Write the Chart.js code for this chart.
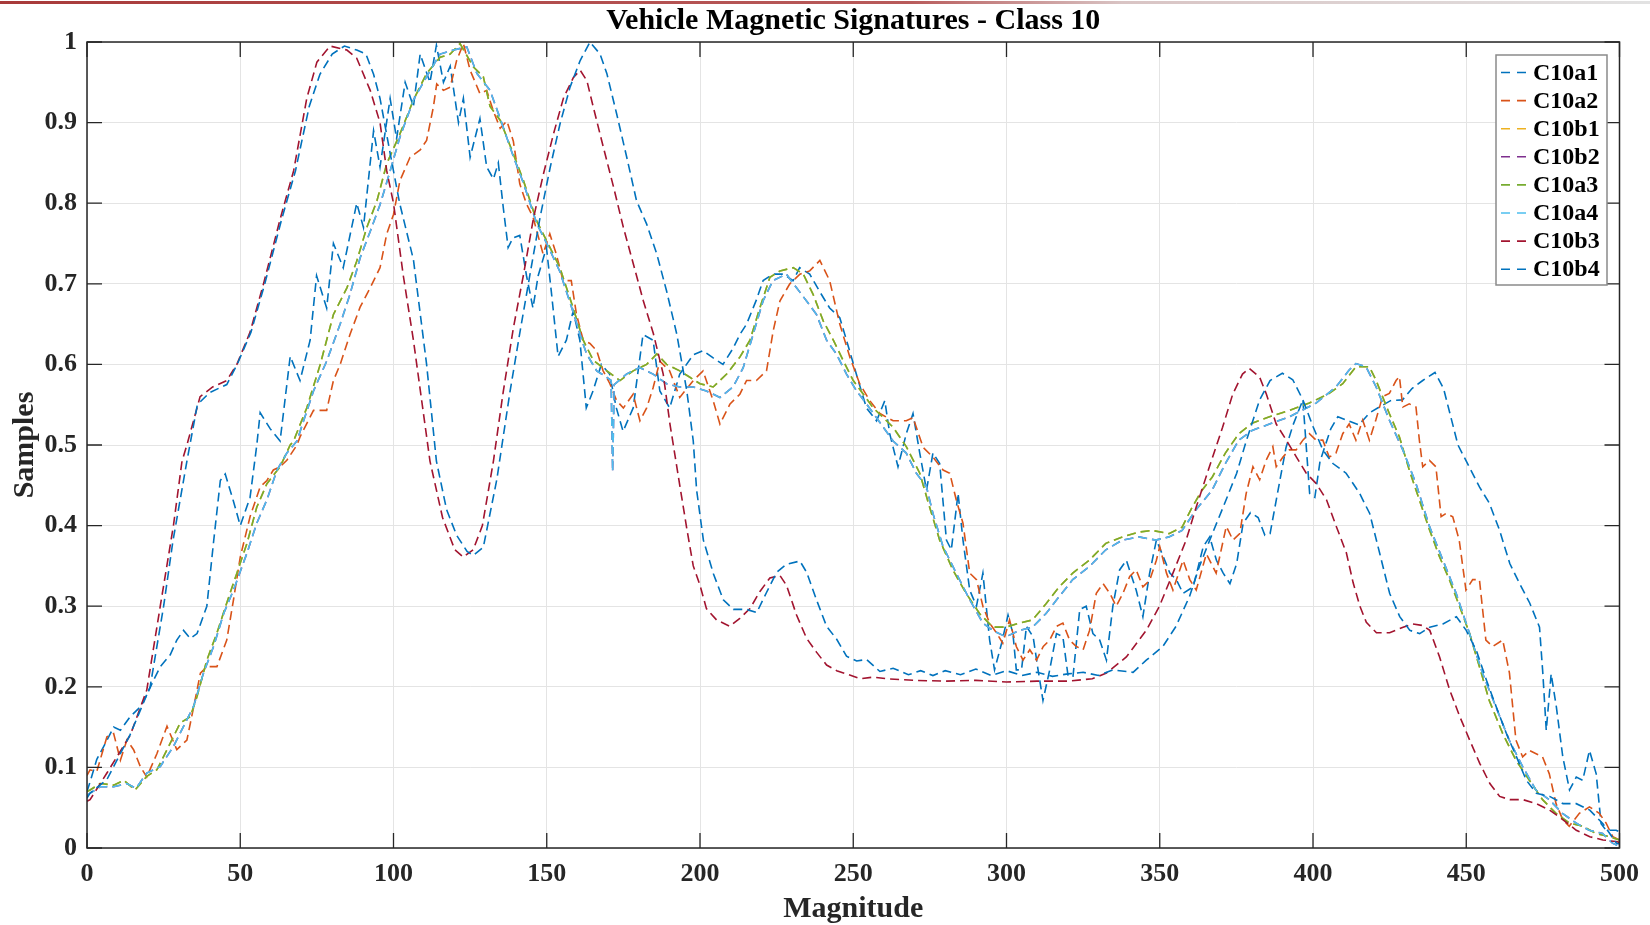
<!DOCTYPE html>
<html>
<head>
<meta charset="utf-8">
<title>Vehicle Magnetic Signatures - Class 10</title>
<script src="https://cdn.jsdelivr.net/npm/chart.js@4.4.1/dist/chart.umd.min.js"></script>
<style>
  html, body { margin: 0; padding: 0; background: #fff; }
</style>
</head>
<body>
<canvas id="myChart" width="1650" height="925"></canvas>
<script>
const chartTitle = 'Vehicle Magnetic Signatures - Class 10';
const xTitle = 'Magnitude';
const yTitle = 'Samples';
const seriesNames = ['C10a1', 'C10a2', 'C10b1', 'C10b2', 'C10a3', 'C10a4', 'C10b3', 'C10b4'];
const seriesColors = ['#0072BD', '#D95319', '#EDB120', '#7E2F8E', '#77AC30', '#4DBEEE', '#A2142F', '#0072BD'];

// [magnitude, sample] pairs
const C10a1 = [[0,0.07],[1,0.082],[3.2,0.11],[6,0.13],[8.7,0.15],[10.9,0.146],[14.1,0.163],[17.4,0.175],[19.5,0.19],[21.7,0.208],[23.9,0.225],[27.2,0.24],[29.3,0.258],[31.5,0.27],[33.7,0.26],[35.9,0.266],[39.1,0.3],[41.3,0.38],[43.5,0.456],[45.1,0.464],[47.8,0.43],[50,0.4],[53.2,0.435],[55.4,0.5],[56.5,0.54],[59.8,0.52],[63,0.505],[66.3,0.61],[69.5,0.58],[72.8,0.63],[74.9,0.71],[78.2,0.67],[80.4,0.75],[83.6,0.72],[88,0.8],[90.2,0.77],[93.5,0.89],[95.6,0.845],[98.9,0.93],[101,0.88],[103.8,0.95],[106.5,0.92],[108.7,0.985],[111.9,0.95],[114,0.996],[116.3,0.95],[118.5,0.97],[121.2,0.9],[122.8,0.93],[125,0.857],[128.2,0.905],[130.4,0.845],[132.6,0.83],[134.2,0.85],[135.8,0.795],[137.4,0.745],[139,0.757],[141.2,0.76],[143.4,0.71],[145.5,0.67],[147.2,0.71],[149.9,0.745],[151.5,0.69],[153.7,0.61],[156.4,0.63],[158.6,0.666],[160.8,0.63],[162.9,0.546],[165.1,0.567],[167.8,0.6],[170.5,0.588],[172.7,0.546],[174.9,0.517],[178.2,0.546],[181.4,0.637],[184.7,0.63],[186.9,0.567],[190.1,0.546],[193.4,0.588],[197.8,0.612],[201,0.617],[204.3,0.608],[207.5,0.6],[210.8,0.62],[213,0.637],[215.2,0.65],[218.4,0.68],[220.6,0.704],[223.8,0.712],[227.1,0.712],[230.4,0.704],[232.5,0.72],[235.8,0.712],[239.1,0.69],[242.3,0.67],[245.6,0.658],[247.8,0.63],[251,0.588],[254.3,0.546],[257.6,0.53],[260.3,0.555],[261.9,0.514],[264.6,0.473],[267.3,0.514],[269.5,0.539],[271.7,0.49],[273.9,0.444],[276,0.49],[278.2,0.477],[280.4,0.382],[282,0.37],[284.2,0.44],[285.8,0.382],[288,0.32],[290.2,0.3],[292.3,0.341],[294.5,0.258],[296.1,0.221],[298.4,0.254],[300.5,0.289],[302.1,0.266],[303.2,0.221],[304.9,0.221],[306.5,0.275],[308.7,0.262],[310.3,0.221],[311.9,0.183],[314.1,0.221],[316.3,0.266],[318.4,0.262],[320.1,0.213],[321.7,0.213],[323.9,0.296],[326,0.3],[328.2,0.266],[330.4,0.258],[332.6,0.233],[334.7,0.3],[336.9,0.345],[339.1,0.357],[342.3,0.32],[344.5,0.287],[346.7,0.341],[348.9,0.382],[351.1,0.362],[353.3,0.341],[355.4,0.333],[357.6,0.316],[360.9,0.324],[364.2,0.374],[366.3,0.386],[368.5,0.357],[370.7,0.341],[372.9,0.328],[375.1,0.353],[377.2,0.403],[379.6,0.416],[382.1,0.41],[384.3,0.388],[386,0.39],[388.9,0.45],[391.2,0.497],[393.5,0.525],[396.7,0.556],[398.9,0.44],[400.6,0.435],[402.3,0.48],[405.8,0.52],[408.1,0.535],[411.5,0.53],[415,0.525],[418.5,0.54],[421.6,0.547],[425.3,0.555],[429.2,0.556],[432.3,0.57],[435.8,0.58],[439.8,0.59],[442.6,0.57],[447.3,0.5],[454.3,0.448],[457.5,0.428],[460.8,0.395],[464.2,0.353],[467.4,0.328],[470.7,0.304],[473.9,0.274],[475,0.216],[476.1,0.146],[477.7,0.216],[479.4,0.175],[481.5,0.113],[483.7,0.072],[485.9,0.088],[488,0.084],[490.2,0.121],[492.4,0.092],[494,0.03],[495.6,0.022],[498.9,0.022],[500,0.02]];

const C10a2 = [[0,0.09],[1,0.097],[3.2,0.095],[6.5,0.138],[8.7,0.142],[10.9,0.109],[13,0.134],[15.2,0.122],[17.4,0.101],[19.5,0.088],[22.8,0.117],[26.1,0.151],[29.3,0.122],[32.6,0.134],[34.8,0.175],[37,0.217],[39.1,0.225],[42.4,0.225],[45.6,0.258],[47.8,0.308],[50,0.361],[53.2,0.411],[56.5,0.448],[58.7,0.456],[60.8,0.469],[63,0.473],[65.2,0.481],[68.5,0.5],[69.5,0.51],[73.9,0.543],[78.2,0.543],[80.4,0.58],[82.6,0.6],[85.8,0.637],[89.1,0.671],[92.4,0.695],[95.6,0.72],[97.8,0.762],[100,0.786],[102.1,0.828],[105.4,0.857],[108.7,0.866],[110.8,0.878],[113,0.919],[114.1,0.948],[116.3,0.94],[118.5,0.944],[120.6,0.977],[122.8,0.998],[125,0.965],[128.2,0.936],[130.4,0.94],[132.6,0.914],[134.8,0.893],[137,0.902],[139.1,0.877],[141.2,0.824],[143.4,0.799],[145.5,0.783],[148.8,0.737],[151,0.762],[153.1,0.737],[155.3,0.704],[158,0.704],[159.7,0.662],[161.9,0.63],[164.1,0.626],[166.3,0.617],[168.4,0.592],[170.6,0.576],[172.8,0.555],[175,0.546],[178.2,0.563],[180.4,0.53],[182.6,0.546],[184.7,0.571],[186.9,0.604],[190.1,0.592],[193.4,0.559],[197.8,0.58],[201,0.592],[204.3,0.555],[206.5,0.526],[209.8,0.551],[213,0.563],[215.2,0.58],[218.4,0.58],[221.7,0.592],[223.9,0.642],[226.1,0.679],[229.3,0.7],[232.6,0.712],[235.8,0.716],[239.1,0.729],[242.3,0.704],[245.6,0.65],[248.9,0.609],[252.1,0.576],[255.4,0.555],[258.7,0.539],[263,0.53],[267.3,0.53],[269.5,0.534],[272.8,0.497],[276,0.485],[279.3,0.469],[281.5,0.465],[283.6,0.432],[285.8,0.403],[288,0.341],[290.2,0.333],[292.3,0.3],[294.5,0.279],[296.7,0.267],[298.8,0.254],[301,0.283],[303.2,0.25],[305.4,0.233],[307.6,0.246],[309.8,0.233],[312,0.25],[314.1,0.258],[316.3,0.275],[318.4,0.279],[320.6,0.258],[322.8,0.25],[325,0.246],[327.1,0.27],[329.3,0.316],[331.5,0.328],[333.7,0.316],[335.8,0.3],[338,0.316],[340.2,0.337],[342.3,0.345],[344.5,0.324],[346.7,0.332],[348.9,0.357],[350,0.374],[352.2,0.341],[354.3,0.32],[357.6,0.357],[359.8,0.333],[361.9,0.32],[365.2,0.365],[368.4,0.341],[371.7,0.399],[373.9,0.382],[376.1,0.39],[378.2,0.44],[380.4,0.473],[382.6,0.457],[384.7,0.481],[386.9,0.498],[388,0.473],[390.2,0.485],[392.3,0.494],[394.5,0.494],[396.7,0.506],[398.8,0.514],[401,0.506],[403.2,0.506],[405.3,0.485],[407.5,0.49],[409.7,0.514],[411.8,0.526],[414,0.506],[416.2,0.531],[418.4,0.506],[420.5,0.531],[422.7,0.56],[424.9,0.564],[427.1,0.58],[428.2,0.585],[429.3,0.547],[431.4,0.551],[433.6,0.547],[434.7,0.506],[435.8,0.473],[438,0.481],[440.1,0.473],[441.8,0.411],[443.4,0.415],[445.6,0.411],[447.7,0.382],[449.9,0.32],[452.1,0.333],[454.3,0.333],[456.4,0.258],[458.6,0.25],[461.9,0.258],[464.1,0.217],[466.2,0.134],[468.4,0.113],[470.6,0.121],[472.8,0.117],[474.9,0.113],[477.1,0.092],[479.3,0.055],[481.5,0.035],[483.6,0.027],[486.9,0.043],[490.2,0.051],[493.4,0.043],[495.6,0.031],[497.8,0.014],[500,0.01]];

const C10a3 = [[0,0.07],[1,0.072],[4.3,0.08],[8.7,0.078],[12,0.084],[15.7,0.072],[19.5,0.089],[22.8,0.097],[26.1,0.122],[30.4,0.155],[33.7,0.163],[35.9,0.188],[39.1,0.233],[42.4,0.267],[45.6,0.304],[48.9,0.341],[52.2,0.378],[55.4,0.423],[58.7,0.452],[63,0.473],[66.3,0.5],[67.4,0.505],[71.7,0.546],[76.1,0.6],[80.4,0.662],[84.8,0.695],[88,0.728],[91.3,0.77],[94.6,0.803],[97.8,0.849],[102.1,0.886],[106.5,0.928],[110.8,0.961],[115.2,0.981],[118.5,0.985],[121.7,0.998],[126.1,0.969],[129.3,0.957],[131.5,0.92],[134.8,0.903],[139.1,0.861],[142.4,0.828],[146.7,0.778],[150,0.753],[154.3,0.72],[158.6,0.67],[161.9,0.63],[165.2,0.605],[169.6,0.592],[173.9,0.58],[178.2,0.592],[182.6,0.6],[185.9,0.613],[189.1,0.6],[193.4,0.592],[196.7,0.584],[200,0.576],[204.3,0.572],[208.7,0.588],[213,0.609],[216.3,0.63],[219.6,0.671],[222.8,0.708],[226.1,0.716],[230.4,0.72],[233.7,0.712],[236.9,0.687],[240.2,0.654],[243.5,0.63],[246.7,0.605],[250,0.58],[253.3,0.563],[256.5,0.546],[259.8,0.534],[263,0.522],[267.3,0.498],[271.7,0.465],[274.9,0.423],[278.2,0.382],[282.5,0.345],[286.8,0.316],[291.2,0.291],[295.5,0.274],[299.8,0.274],[304.2,0.279],[308.5,0.283],[312.9,0.303],[317.2,0.324],[321.6,0.341],[327,0.357],[332.4,0.378],[337.8,0.386],[343.2,0.392],[347.6,0.394],[353,0.39],[357.3,0.398],[360.6,0.423],[363.8,0.444],[367.1,0.46],[371.4,0.49],[375.8,0.514],[380.1,0.527],[385.8,0.535],[392.3,0.543],[398.8,0.552],[405.3,0.564],[409.7,0.576],[414,0.597],[418.4,0.597],[420.6,0.58],[424.9,0.539],[428.2,0.51],[431.4,0.469],[434.7,0.432],[438,0.395],[441.2,0.362],[444.5,0.333],[447.8,0.3],[451,0.267],[454.3,0.225],[457.5,0.183],[461.9,0.142],[466.2,0.109],[470.6,0.084],[474.9,0.06],[479.3,0.043],[483.6,0.031],[488,0.027],[492.3,0.018],[496.7,0.014],[500,0.01]];

const C10a4 = [[0,0.065],[1,0.068],[4.3,0.076],[8.7,0.076],[13,0.08],[16,0.074],[19.5,0.093],[23.9,0.101],[28.2,0.126],[31.5,0.151],[34.8,0.176],[38,0.217],[41.3,0.25],[44.6,0.291],[47.8,0.32],[52.2,0.366],[55.4,0.403],[58.7,0.432],[62,0.469],[65.2,0.49],[68.5,0.505],[73.9,0.567],[78.2,0.604],[82.6,0.65],[85.8,0.687],[89.1,0.732],[92.4,0.765],[95.6,0.798],[98.9,0.84],[102.1,0.882],[106.5,0.928],[110.8,0.957],[115.2,0.985],[119.6,0.99],[123.9,0.994],[127.2,0.961],[131.5,0.94],[134.8,0.905],[139.1,0.858],[142.4,0.825],[146.7,0.775],[150,0.75],[154.3,0.715],[158.6,0.665],[161.9,0.625],[163,0.613],[166.3,0.592],[169.6,0.584],[171,0.58],[171.5,0.467],[172,0.575],[176,0.588],[180.3,0.596],[184.7,0.588],[189.1,0.576],[193.4,0.572],[197.8,0.572],[202.1,0.567],[206.5,0.559],[210.8,0.572],[214.1,0.596],[217.4,0.638],[220.6,0.679],[223.8,0.704],[228.2,0.712],[231.5,0.695],[234.7,0.679],[238,0.662],[241.3,0.63],[244.5,0.613],[247.8,0.588],[251.1,0.567],[254.3,0.551],[258.7,0.528],[263,0.505],[267.3,0.49],[270.6,0.465],[273.9,0.448],[276,0.415],[279.3,0.374],[283.6,0.341],[288,0.308],[292.3,0.279],[295.5,0.27],[299.8,0.262],[304.2,0.27],[308.5,0.274],[312.9,0.291],[317.2,0.312],[321.6,0.333],[327,0.349],[332.4,0.37],[337.8,0.382],[343.2,0.386],[348.7,0.382],[353,0.386],[357.3,0.394],[361.7,0.419],[367.1,0.444],[371.4,0.477],[375.8,0.506],[380.1,0.518],[385.8,0.526],[392.3,0.535],[401,0.552],[407.5,0.572],[411.8,0.593],[414,0.601],[417.3,0.597],[420.6,0.572],[424.9,0.531],[429.3,0.494],[433.6,0.452],[438,0.399],[442.3,0.358],[446.7,0.316],[451,0.267],[455.3,0.217],[459.7,0.175],[464,0.134],[468.4,0.101],[472.7,0.072],[477.1,0.06],[481.4,0.043],[485.8,0.031],[490.1,0.022],[494.5,0.018],[497.7,0.006],[500,0.002]];

// b1 and b2 are not visible in the figure: they sit under a3 and a4
const C10b1 = C10a3;
const C10b2 = C10a4;

const C10b3 = [[0,0.058],[1,0.06],[6.5,0.093],[14.1,0.14],[19.5,0.196],[23.9,0.3],[28.2,0.4],[31,0.48],[32.6,0.5],[36.9,0.56],[41,0.572],[45.6,0.58],[48.9,0.6],[53.2,0.64],[57.6,0.7],[63,0.78],[67.4,0.84],[71.7,0.93],[75,0.975],[79.3,0.995],[84.8,0.99],[88,0.98],[92.4,0.94],[95.6,0.9],[97.8,0.84],[100,0.8],[103.2,0.71],[106.5,0.63],[111.9,0.48],[116,0.41],[120,0.37],[122.8,0.361],[126,0.37],[129,0.4],[132.6,0.48],[135.8,0.566],[139.1,0.645],[142.4,0.711],[145.7,0.782],[148.9,0.836],[152.2,0.886],[155.5,0.931],[158.7,0.956],[160.9,0.965],[163.1,0.952],[165.2,0.919],[168.5,0.869],[171.8,0.82],[175,0.77],[178.3,0.724],[181.5,0.679],[184.8,0.638],[188,0.588],[190.2,0.526],[193.4,0.45],[195.7,0.396],[197.8,0.35],[200,0.326],[202.1,0.297],[205.4,0.283],[209.7,0.275],[213,0.285],[216.3,0.297],[219.5,0.318],[222.8,0.335],[226.1,0.338],[228.2,0.326],[231.5,0.289],[234.8,0.26],[238,0.243],[241.3,0.227],[244.6,0.22],[247.8,0.216],[252.2,0.21],[256.5,0.212],[260.9,0.21],[270,0.208],[280,0.207],[290,0.208],[300,0.206],[310,0.207],[320,0.207],[328,0.21],[332.6,0.217],[339.1,0.237],[345.6,0.27],[349.9,0.3],[354.3,0.341],[358.6,0.382],[361.9,0.423],[366.2,0.473],[370.5,0.522],[373.8,0.563],[377,0.588],[379.2,0.595],[382.6,0.584],[384.8,0.563],[388,0.526],[391.3,0.506],[394.6,0.485],[397.8,0.465],[401.1,0.452],[404.4,0.432],[407.6,0.399],[410.9,0.366],[413.1,0.329],[415.3,0.3],[417.4,0.28],[420.7,0.267],[425,0.267],[429.4,0.274],[432.6,0.278],[435.9,0.276],[438.1,0.27],[441.3,0.237],[444.6,0.196],[447.9,0.163],[451.1,0.134],[454.4,0.105],[457.7,0.08],[460.9,0.064],[464.2,0.06],[468.5,0.06],[472.9,0.055],[477.2,0.047],[481.6,0.035],[485.9,0.022],[490.3,0.014],[494.6,0.01],[498.9,0.008],[500,0.007]];

const C10b4 = [[0,0.062],[1,0.068],[6.5,0.085],[14,0.14],[20.6,0.2],[25,0.3],[28,0.38],[32.6,0.48],[36,0.55],[40,0.565],[45.6,0.575],[49,0.6],[53.5,0.64],[58,0.7],[63.5,0.78],[68,0.84],[72.5,0.92],[76,0.96],[80,0.985],[84,0.995],[88,0.99],[91,0.985],[93.5,0.96],[95.6,0.93],[99,0.86],[102,0.8],[106.5,0.73],[110.8,0.6],[114,0.48],[117.3,0.42],[120.6,0.388],[124,0.368],[126,0.363],[129.3,0.373],[133.7,0.457],[138,0.566],[141.3,0.641],[144.5,0.711],[147.8,0.782],[151.1,0.844],[154.3,0.898],[157.6,0.944],[160.9,0.977],[164.1,1.0],[167.4,0.985],[169.6,0.961],[172.8,0.911],[176.1,0.857],[179.3,0.803],[182.6,0.774],[185.9,0.737],[189.1,0.691],[192.4,0.638],[195.7,0.567],[197.8,0.505],[198.9,0.444],[201.1,0.382],[204.4,0.34],[207.6,0.308],[210.9,0.296],[215.2,0.296],[218.5,0.292],[221.7,0.317],[225,0.342],[228.2,0.352],[232.6,0.356],[234.8,0.342],[238,0.308],[241.3,0.275],[244.6,0.259],[247.8,0.238],[251.1,0.232],[254.3,0.234],[258.7,0.219],[263,0.223],[268,0.215],[272,0.22],[276,0.214],[280,0.22],[285,0.215],[290,0.222],[295,0.214],[300,0.22],[305,0.214],[310,0.218],[315,0.213],[320,0.216],[325,0.218],[330,0.214],[334.7,0.221],[341.3,0.218],[345.6,0.233],[351,0.25],[355.3,0.275],[359.7,0.312],[362.9,0.349],[366.3,0.382],[370.7,0.423],[375.1,0.465],[378.3,0.506],[382.6,0.556],[386,0.58],[390,0.589],[393.4,0.581],[396.7,0.556],[400,0.523],[403.2,0.494],[406.5,0.477],[410.8,0.465],[415.2,0.44],[418.5,0.415],[421.8,0.365],[425,0.316],[428.3,0.287],[431.6,0.27],[434.8,0.266],[438.1,0.274],[442.4,0.278],[446.8,0.287],[450,0.27],[453.3,0.245],[456.6,0.208],[459.8,0.175],[463.1,0.142],[466.4,0.113],[469.6,0.084],[472.9,0.068],[477.2,0.064],[481.6,0.055],[485.9,0.055],[490.3,0.047],[494.6,0.03],[496.8,0.018],[499,0.006],[500,0.005]];

const seriesData = [C10a1, C10a2, C10b1, C10b2, C10a3, C10a4, C10b3, C10b4];

const serif = "'Liberation Serif', 'Times New Roman', serif";
const axisColor = '#262626';

const configureData = () => {
  return {
    datasets: seriesNames.map((name, i) => ({
      label: name,
      data: seriesData[i].map(([x, y]) => ({ x: x, y: y })),
      borderColor: seriesColors[i],
      borderWidth: 1.6,
      borderDash: [9, 5],
      pointRadius: 0,
      fill: false,
      tension: 0,
      order: -i   // later series on top, as in the source figure
    }))
  };
};

// title, box, inward ticks, legend and the thin header rule of the page
const decorations = {
  id: 'decorations',
  afterDraw(chart) {
    const ctx = chart.ctx;
    const area = chart.chartArea;
    const xs = chart.scales.x;
    const ys = chart.scales.y;
    ctx.save();

    const grad = ctx.createLinearGradient(0, 0, 1650, 0);
    grad.addColorStop(0, '#a83a3a');
    grad.addColorStop(0.55, '#b85a5a');
    grad.addColorStop(0.68, '#d9c4c4');
    grad.addColorStop(1, '#e2e2e2');
    ctx.fillStyle = grad;
    ctx.fillRect(0, 1, 1650, 3);

    ctx.fillStyle = '#000';
    ctx.font = 'bold 30px ' + serif;
    ctx.textAlign = 'center';
    ctx.textBaseline = 'middle';
    ctx.fillText(chartTitle, (area.left + area.right) / 2, 21);

    ctx.strokeStyle = axisColor;
    ctx.lineWidth = 1.5;
    ctx.strokeRect(area.left, area.top, area.right - area.left, area.bottom - area.top);

    ctx.lineWidth = 1.3;
    ctx.beginPath();
    ys.ticks.forEach(t => {
      const py = ys.getPixelForValue(t.value);
      ctx.moveTo(area.left, py); ctx.lineTo(area.left + 15, py);
      ctx.moveTo(area.right, py); ctx.lineTo(area.right - 15, py);
    });
    xs.ticks.forEach(t => {
      const px = xs.getPixelForValue(t.value);
      ctx.moveTo(px, area.bottom); ctx.lineTo(px, area.bottom - 15);
      ctx.moveTo(px, area.top); ctx.lineTo(px, area.top + 15);
    });
    ctx.stroke();

    // legend
    const bx = 1496, by = 55, bw = 111, bh = 230, row = 28.1;
    ctx.fillStyle = '#fff';
    ctx.fillRect(bx, by, bw, bh);
    ctx.strokeStyle = '#8a8a8a';
    ctx.lineWidth = 1.5;
    ctx.strokeRect(bx, by, bw, bh);
    ctx.font = 'bold 24px ' + serif;
    ctx.textAlign = 'left';
    chart.data.datasets.forEach((ds, i) => {
      const cy = by + 17.5 + i * row;
      ctx.strokeStyle = ds.borderColor;
      ctx.lineWidth = 1.6;
      ctx.setLineDash([9, 7]);
      ctx.beginPath();
      ctx.moveTo(bx + 5, cy); ctx.lineTo(bx + 30, cy);
      ctx.stroke();
      ctx.setLineDash([]);
      ctx.fillStyle = '#000';
      ctx.fillText(ds.label, bx + 37, cy + 1);
    });
    ctx.restore();
  }
};

const configureChart = (data) => {
  return {
    type: 'line',
    data: data,
    options: {
      responsive: false,
      animation: false,
      events: [],
      layout: { padding: { top: 42, right: 30, left: 0, bottom: 0 } },
      scales: {
        x: {
          type: 'linear',
          min: 0,
          max: 500,
          ticks: {
            stepSize: 50,
            color: axisColor,
            padding: 11,
            maxRotation: 0,
            font: { family: serif, size: 26, weight: 'bold' }
          },
          grid: { color: '#e4e4e4', lineWidth: 1, drawTicks: false },
          border: { display: false },
          title: {
            display: true,
            text: xTitle,
            color: axisColor,
            padding: { top: 0, bottom: -2 },
            font: { family: serif, size: 30, weight: 'bold' }
          },
          afterFit: (scale) => { scale.height = 77; }
        },
        y: {
          min: 0,
          max: 1,
          ticks: {
            stepSize: 0.1,
            color: axisColor,
            padding: 10,
            font: { family: serif, size: 26, weight: 'bold' },
            callback: (v) => (v === 0 || v === 1) ? String(v) : v.toFixed(1)
          },
          grid: { color: '#e4e4e4', lineWidth: 1, drawTicks: false },
          border: { display: false },
          title: {
            display: true,
            text: yTitle,
            color: axisColor,
            padding: { top: 7, bottom: 0 },
            font: { family: serif, size: 30, weight: 'bold' }
          },
          afterFit: (scale) => { scale.width = 87; }
        }
      },
      plugins: {
        legend: { display: false },
        title: { display: false },
        tooltip: { enabled: false }
      }
    },
    plugins: [decorations]
  };
};

const renderChart = () => {
  const ctx = document.getElementById('myChart');
  const data = configureData();
  const chartConfigurations = configureChart(data);
  const myChart = new Chart(ctx, chartConfigurations);
};

window.onload = () => {
  renderChart();
};
</script>
</body>
</html>
